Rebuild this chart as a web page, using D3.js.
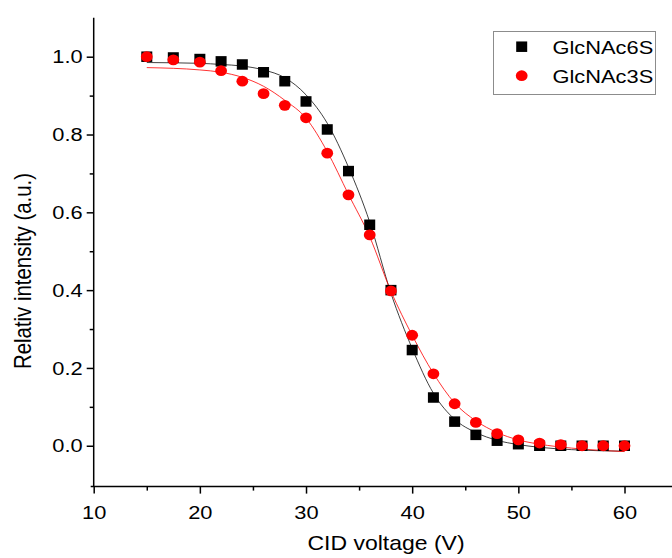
<!DOCTYPE html>
<html>
<head>
<meta charset="utf-8">
<script src="https://cdn.jsdelivr.net/npm/d3@7/dist/d3.min.js"></script>
<style>
  html, body { margin: 0; padding: 0; background: #fff; }
  svg { display: block; }
  text { font-family: "Liberation Sans", Arial, Helvetica, sans-serif; fill: #000; }
</style>
</head>
<body>
<svg id="chart" width="672" height="558"></svg>
<script>
// CID voltage steps (V)
const voltages = [15, 17.5, 20, 22, 24, 26, 28, 30, 32, 34, 36, 38, 40, 42, 44, 46, 48, 50, 52, 54, 56, 58, 60];

// Measured relative intensities
const glcnac6s = [1.0, 0.998, 0.994, 0.988, 0.980, 0.960, 0.937, 0.885, 0.813, 0.706, 0.568, 0.400, 0.246, 0.124, 0.062, 0.028, 0.013, 0.004, 0.0, 0.0, 0.0, 0.0, 0.0];
const glcnac3s = [1.0, 0.992, 0.986, 0.964, 0.937, 0.905, 0.875, 0.843, 0.752, 0.645, 0.542, 0.398, 0.284, 0.185, 0.108, 0.060, 0.031, 0.015, 0.007, 0.003, 0.0, 0.0, 0.0];

// Sigmoidal fit curves, sampled along the voltage axis
const fitVoltages = [15, 20, 22, 24, 26, 28, 30, 32, 34, 36, 38, 40, 42, 44, 46, 48, 50, 52, 55, 60];
const fit6s = [0.985, 0.983, 0.980, 0.976, 0.966, 0.946, 0.902, 0.829, 0.716, 0.575, 0.392, 0.250, 0.135, 0.068, 0.034, 0.014, 0.003, -0.004, -0.010, -0.014];
const fit3s = [0.972, 0.966, 0.960, 0.947, 0.924, 0.888, 0.842, 0.756, 0.646, 0.537, 0.397, 0.284, 0.186, 0.110, 0.064, 0.034, 0.015, 0.004, -0.006, -0.015];

// Axis ticks
const xMajorTicks = [10, 20, 30, 40, 50, 60];
const xMinorTicks = [15, 25, 35, 45, 55, 65];
const yMajorTicks = [0.0, 0.2, 0.4, 0.6, 0.8, 1.0];
const yMinorTicks = [0.1, 0.3, 0.5, 0.7, 0.9];

const seriesNames = ["GlcNAc6S", "GlcNAc3S"];
const seriesColors = ["#000000", "#ff0000"];

// Glyphs are drawn slightly wide
const STRETCH = 1.15;

const svg = d3.select("#chart");

const x = d3.scaleLinear().domain([10, 65]).range([93.7, 93.7 + 55 * 10.616]);
const y = d3.scaleLinear().domain([-0.105, 1.1]).range([486.6, 17.8]);

const x0 = x(10), yBottom = y(-0.105);

// Fit curves
const line = d3.line()
  .x(d => x(d[0]))
  .y(d => y(d[1]))
  .curve(d3.curveMonotoneX);

const fits = [fit6s, fit3s];
fits.forEach((vals, i) => {
  svg.append("path")
    .datum(fitVoltages.map((v, k) => [v, vals[k]]))
    .attr("d", line)
    .attr("fill", "none")
    .attr("stroke", seriesColors[i])
    .attr("stroke-width", 1)
    .attr("stroke-opacity", i === 0 ? 0.75 : 0.8);
});

// Marker shapes
const sqW = 11, sqH = 10.5, cRx = 5.9, cRy = 5.4;

svg.append("g").selectAll("rect")
  .data(voltages.map((v, k) => [v, glcnac6s[k]]))
  .join("rect")
  .attr("x", d => x(d[0]) - sqW / 2)
  .attr("y", d => y(d[1]) - sqH / 2)
  .attr("width", sqW)
  .attr("height", sqH)
  .attr("fill", seriesColors[0]);

svg.append("g").selectAll("ellipse")
  .data(voltages.map((v, k) => [v, glcnac3s[k]]))
  .join("ellipse")
  .attr("cx", d => x(d[0]))
  .attr("cy", d => y(d[1]))
  .attr("rx", cRx)
  .attr("ry", cRy)
  .attr("fill", seriesColors[1]);

// Axes
const xAxis = svg.append("g").attr("transform", `translate(0,${yBottom})`);
xAxis.call(d3.axisBottom(x).tickValues(xMajorTicks).tickSize(7).tickSizeOuter(0).tickPadding(12).tickFormat(d3.format("d")));
xAxis.append("g").call(d3.axisBottom(x).tickValues(xMinorTicks).tickSize(4).tickSizeOuter(0).tickFormat(""))
  .select(".domain").remove();
xAxis.select(".domain").attr("d", `M${x0 - 3},0H672`);

const yAxis = svg.append("g").attr("transform", `translate(${x0},0)`);
yAxis.call(d3.axisLeft(y).tickValues(yMajorTicks).tickSize(7).tickSizeOuter(0).tickPadding(4).tickFormat(d3.format(".1f")));
yAxis.append("g").call(d3.axisLeft(y).tickValues(yMinorTicks).tickSize(4).tickSizeOuter(0).tickFormat(""))
  .select(".domain").remove();
yAxis.select(".domain").attr("d", `M0,${y(1.1)}V${yBottom}`);

svg.selectAll(".domain, .tick line").attr("stroke", "#000").attr("stroke-width", 1.5);

// Widen tick labels around their anchor points
svg.selectAll(".tick text").each(function () {
  const t = d3.select(this);
  const tx = +t.attr("x") || 0;
  const ty = +t.attr("y") || 0;
  t.attr("x", 0).attr("y", 0)
    .attr("transform", `translate(${tx},${ty}) scale(${STRETCH},1)`)
    .style("font-size", "19px")
    .attr("fill", "#000");
});

// Axis titles
svg.append("text")
  .attr("transform", `translate(386,550) scale(${STRETCH},1)`)
  .attr("text-anchor", "middle")
  .style("font-size", "20px")
  .text("CID voltage (V)");

svg.append("text")
  .attr("transform", `translate(31,271) scale(${STRETCH},1) rotate(-90)`)
  .attr("text-anchor", "middle")
  .style("font-size", "20.4px")
  .text("Relativ intensity (a.u.)");

// Legend
const legend = svg.append("g");
legend.append("rect")
  .attr("x", 493.5).attr("y", 31.5)
  .attr("width", 162).attr("height", 63)
  .attr("fill", "#fff")
  .attr("stroke", "#8c8c8c")
  .attr("stroke-width", 1);

legend.append("rect")
  .attr("x", 521.7 - sqW / 2).attr("y", 46.7 - sqH / 2)
  .attr("width", sqW).attr("height", sqH)
  .attr("fill", seriesColors[0]);
legend.append("ellipse")
  .attr("cx", 521.7).attr("cy", 75.7).attr("rx", cRx).attr("ry", cRy)
  .attr("fill", seriesColors[1]);

seriesNames.forEach((name, i) => {
  legend.append("text")
    .attr("transform", `translate(552.5,${46.7 + i * 29 + 6.8}) scale(${STRETCH},1)`)
    .style("font-size", "19px")
    .text(name);
});
</script>
</body>
</html>
